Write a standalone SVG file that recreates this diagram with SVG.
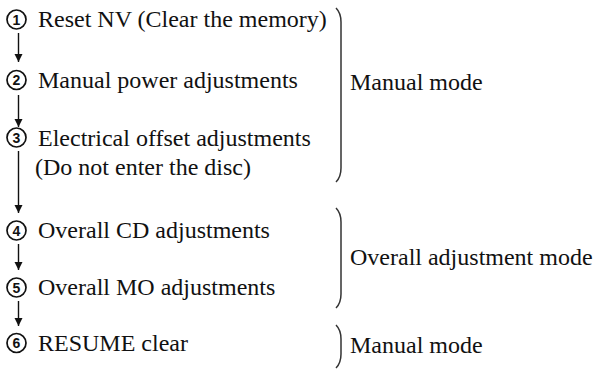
<svg xmlns="http://www.w3.org/2000/svg" width="594" height="369" viewBox="0 0 594 369">
<defs>
<marker id="ah" viewBox="0 0 10 10" refX="10" refY="5" markerWidth="8" markerHeight="9" markerUnits="userSpaceOnUse" orient="auto">
<path d="M0,0 L10,5 L0,10 Z" fill="#111"/>
</marker>
<style>
.t{font-family:"Liberation Serif","Times New Roman",serif;font-size:24px;fill:#111}
.n{font-family:"Liberation Sans",Arial,sans-serif;font-size:14px;font-weight:bold;fill:#111;text-anchor:middle}
.c{fill:none;stroke:#111;stroke-width:1.7}
.a{stroke:#111;stroke-width:1.4;fill:none;marker-end:url(#ah)}
.b{fill:none;stroke:#333;stroke-width:1.5}
</style>
</defs>
<rect width="594" height="369" fill="#fff"/>
<g id="step1"><circle class="c" cx="16.5" cy="19.5" r="9.5"/><text class="n" x="16.5" y="24.5">1</text><text class="t" x="38" y="27">Reset NV (Clear the memory)</text></g>
<g id="step2"><circle class="c" cx="16.5" cy="80" r="9.5"/><text class="n" x="16.5" y="85">2</text><text class="t" x="38" y="88">Manual power adjustments</text></g>
<g id="step3"><circle class="c" cx="16.5" cy="137.5" r="9.5"/><text class="n" x="16.5" y="142.5">3</text><text class="t" x="38" y="146">Electrical offset adjustments</text><text class="t" x="35" y="175">(Do not enter the disc)</text></g>
<g id="step4"><circle class="c" cx="16.5" cy="230.5" r="9.5"/><text class="n" x="16.5" y="235.5">4</text><text class="t" x="38" y="238">Overall CD adjustments</text></g>
<g id="step5"><circle class="c" cx="16.5" cy="287.5" r="9.5"/><text class="n" x="16.5" y="292.5">5</text><text class="t" x="38" y="295">Overall MO adjustments</text></g>
<g id="step6"><circle class="c" cx="16.5" cy="343" r="9.5"/><text class="n" x="16.5" y="348">6</text><text class="t" x="38" y="351">RESUME clear</text></g>
<g id="mode1"><path class="b" d="M336,8 Q341,13 341,22 L341,168 Q341,177 336,182"/><text class="t" x="350" y="90">Manual mode</text></g>
<g id="mode2"><path class="b" d="M336,208 Q341,213 341,222 L341,294 Q341,303 336,308"/><text class="t" x="350" y="265">Overall adjustment mode</text></g>
<g id="mode3"><path class="b" d="M336,325 Q341,330 341,339 L341,354 Q341,363 336,368"/><text class="t" x="350" y="353">Manual mode</text></g>
<g id="connectors">
<line class="a" x1="18.5" y1="33" x2="18.5" y2="62"/>
<line class="a" x1="18.5" y1="95" x2="18.5" y2="127"/>
<line class="a" x1="18.5" y1="151" x2="18.5" y2="213"/>
<line class="a" x1="18.5" y1="244" x2="18.5" y2="270"/>
<line class="a" x1="18.5" y1="301" x2="18.5" y2="326"/>
</g>
</svg>
